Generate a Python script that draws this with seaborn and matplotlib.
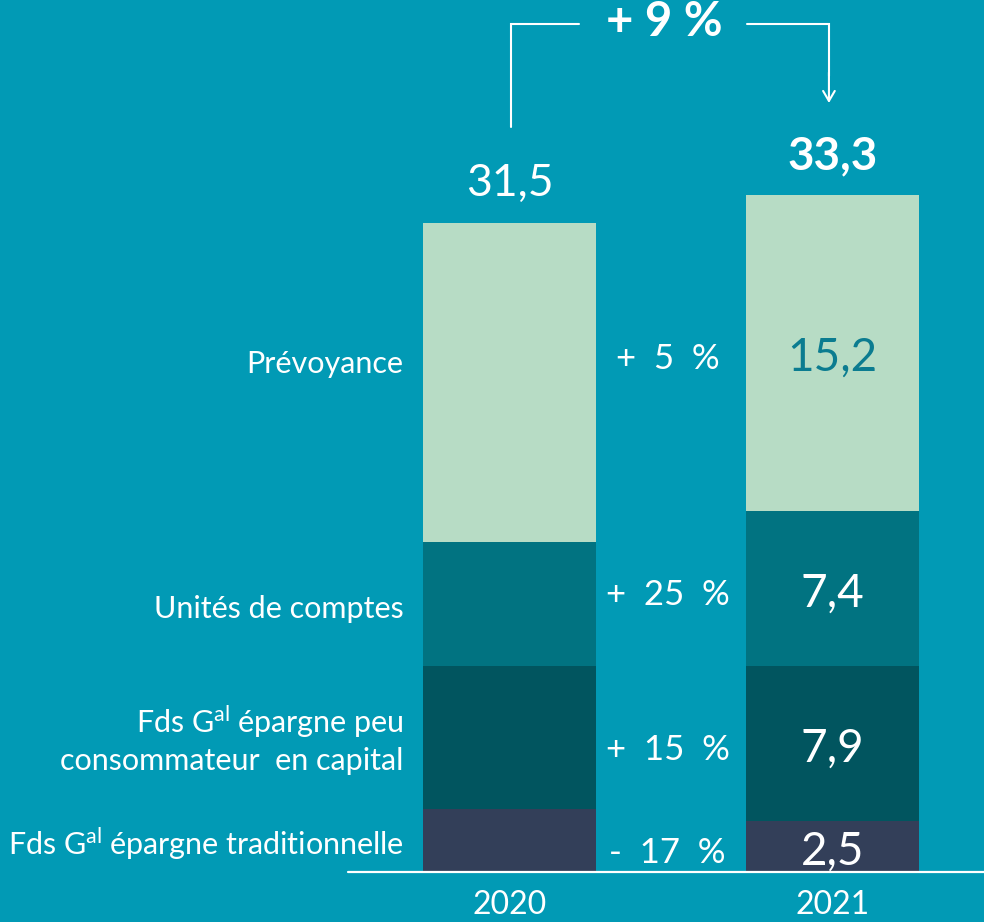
import matplotlib
matplotlib.use("Agg")
import pandas as pd
import matplotlib.pyplot as plt
import seaborn as sns

# data (bottom segment first)
years = ["2020", "2021"]
segments = ["trad", "peu", "uc", "prev"]
segment_labels = [
    r"Fds $\mathrm{G}^{\mathrm{al}}\;$épargne traditionnelle",
    "Fds $\\mathrm{G}^{\\mathrm{al}}\\;$épargne peu\nconsommateur  en capital",
    "Unités de comptes",
    "Prévoyance",
]
values_2020 = [3.1, 7.0, 6.1, 15.6]
values_2021 = [2.5, 7.6, 7.6, 15.5]
value_labels_2021 = ["2,5", "7,9", "7,4", "15,2"]
growth_labels = ["-  17  %", "+  15  %", "+  25  %", "+  5  %"]
total_labels = ["31,5", "33,3"]
total_growth = "+ 9 %"

BG = "#019AB5"
colors = {"trad": "#333F59", "peu": "#01555F", "uc": "#017381", "prev": "#B7DCC5"}
label_colors_2021 = ["white", "white", "white", "#0B7C90"]

sns.set_theme(style="white")
plt.rcParams["font.family"] = ["Lato", "DejaVu Sans"]
plt.rcParams["mathtext.fontset"] = "custom"
plt.rcParams["mathtext.rm"] = "Lato"
plt.rcParams["mathtext.it"] = "Lato:italic"
plt.rcParams["mathtext.bf"] = "Lato:bold"

rows = []
for year, vals in zip(years, [values_2020, values_2021]):
    for seg, v in zip(segments, vals):
        rows.append({"year": year, "segment": seg, "value": v})
df = pd.DataFrame(rows)
df["cum"] = df.groupby("year")["value"].cumsum()
df["mid"] = df["cum"] - df["value"] / 2

fig = plt.figure(figsize=(9.84, 9.22), dpi=100)
fig.patch.set_facecolor(BG)
ax = fig.add_axes([0, 0, 1, 1])
ax.set_facecolor(BG)

# stacked bars: draw cumulative heights from the top segment down
for seg in reversed(segments):
    sub = df[df["segment"] == seg]
    sns.barplot(data=sub, x="year", y="cum", color=colors[seg], saturation=1,
                width=0.535, errorbar=None, linewidth=0, ax=ax)

ax.set_xlim(-1.577, 1.469)
ax.set_ylim(-2.45, 42.75)
ax.axis("off")
ax.axhline(0, xmin=348 / 984, xmax=1, color="white", lw=1.6)

# year labels
for i, y in enumerate(years):
    ax.text(i, -1.6, y, ha="center", va="center", color="white", fontsize=23)

# segment names on the left
label_y = [1.4, 6.5, 12.9, 24.9]
for lab, yy in zip(segment_labels, label_y):
    ax.text(-0.328, yy, lab, ha="right", va="center", color="white",
            fontsize=22, linespacing=1.3)

d21 = df[df["year"] == "2021"].reset_index(drop=True)
for i, row in d21.iterrows():
    ax.text(1, row["mid"] - 0.25, value_labels_2021[i], ha="center", va="center",
            color=label_colors_2021[i], fontsize=33)
    ax.text(0.49, row["mid"] - 0.3, growth_labels[i], ha="center", va="center",
            color="white", fontsize=25)

tops = df.groupby("year")["cum"].max()
ax.text(0, tops["2020"] + 1.95, total_labels[0], ha="center", va="center",
        color="white", fontsize=32)
ax.text(1, tops["2021"] + 1.9, total_labels[1], ha="center", va="center",
        color="white", fontsize=33, fontweight="bold")

# bracket with arrow between totals
ax.plot([0.005, 0.005, 0.215], [36.5, 41.57, 41.57], color="white", lw=1.5,
        solid_joinstyle="miter")
ax.plot([0.735, 0.989, 0.989], [41.57, 41.57, 39.0], color="white", lw=1.5,
        solid_joinstyle="miter")
ax.annotate("", xy=(0.989, 37.7), xytext=(0.989, 39.2),
            arrowprops=dict(arrowstyle="->,head_length=0.6,head_width=0.35",
                            color="white", lw=1.5, shrinkA=0, shrinkB=0))
ax.text(0.48, 41.67, total_growth, ha="center", va="center", color="white",
        fontsize=34, fontweight="bold")

fig.savefig("out.png", dpi=100, facecolor=BG)
